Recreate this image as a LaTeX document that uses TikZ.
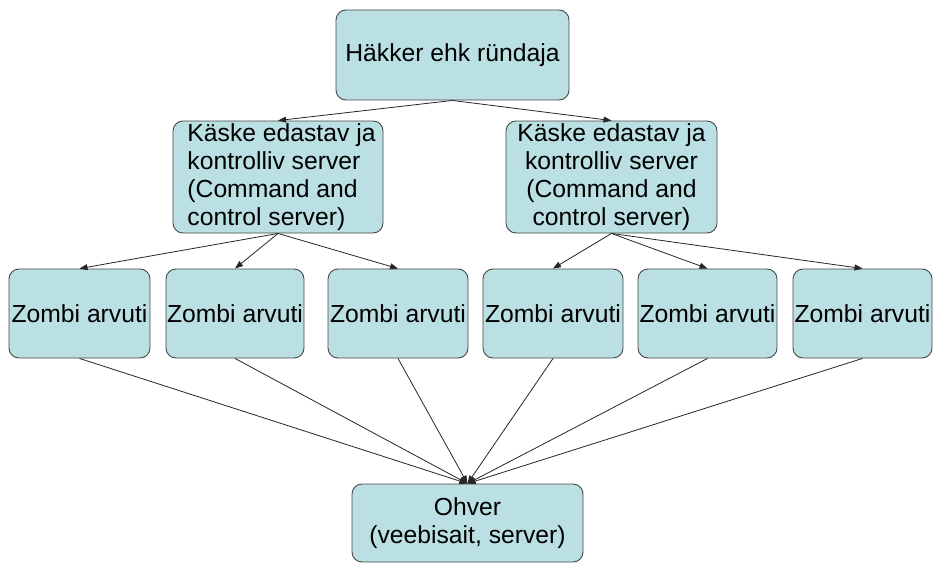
\documentclass[tikz,border=0pt]{standalone}
\usepackage{fontspec}
\setmainfont{Liberation Sans}
\usetikzlibrary{arrows.meta}
\definecolor{boxfill}{RGB}{187,224,228}
\definecolor{boxline}{RGB}{70,70,70}
\tikzset{
  box/.style={draw=boxline, line width=0.9pt, fill=boxfill, rounded corners=10pt,
    inner sep=0pt, font=\fontsize{24.7pt}{28pt}\selectfont},
  conn/.style={draw=black!85, line width=0.8pt, -{Triangle[length=8pt,width=6pt]}},
}
\begin{document}
\begin{tikzpicture}[x=1pt,y=-1pt]
\useasboundingbox (0,0) rectangle (933,567);
\node[box, minimum width=233pt, minimum height=90pt] (top) at (452.5,55) {Häkker ehk ründaja};
\node[box, minimum width=210pt, minimum height=112pt, align=left] (ml) at (278,177) {\hspace*{7pt}Käske edastav ja\\\hspace*{7pt}kontrolliv server\\\hspace*{7pt}(Command and\\\hspace*{7pt}control server)};
\node[box, minimum width=211pt, minimum height=112pt, align=center] (mr) at (611.5,177) {Käske edastav ja\\kontrolliv server\\(Command and\\control server)};
\node[box, minimum width=141pt, minimum height=89pt] (z1) at (79.5,313.5) {Zombi arvuti};
\node[box, minimum width=138pt, minimum height=89pt] (z2) at (235,313.5) {Zombi arvuti};
\node[box, minimum width=140pt, minimum height=89pt] (z3) at (398,313.5) {Zombi arvuti};
\node[box, minimum width=140pt, minimum height=89pt] (z4) at (553,313.5) {Zombi arvuti};
\node[box, minimum width=139pt, minimum height=89pt] (z5) at (707.5,313.5) {Zombi arvuti};
\node[box, minimum width=139pt, minimum height=89pt] (z6) at (862.5,313.5) {Zombi arvuti};
\node[box, minimum width=231pt, minimum height=78pt, align=center] (ohv) at (467.5,523) {Ohver\\(veebisait, server)};
\draw[conn] (top.south) -- (ml.north);
\draw[conn] (top.south) -- (mr.north);
\foreach \z in {z1,z2,z3} \draw[conn] (ml.south) -- (\z.north);
\foreach \z in {z4,z5,z6} \draw[conn] (mr.south) -- (\z.north);
\foreach \z in {z1,z2,z3,z4,z5,z6} \draw[conn] (\z.south) -- (ohv.north);
\end{tikzpicture}
\end{document}
